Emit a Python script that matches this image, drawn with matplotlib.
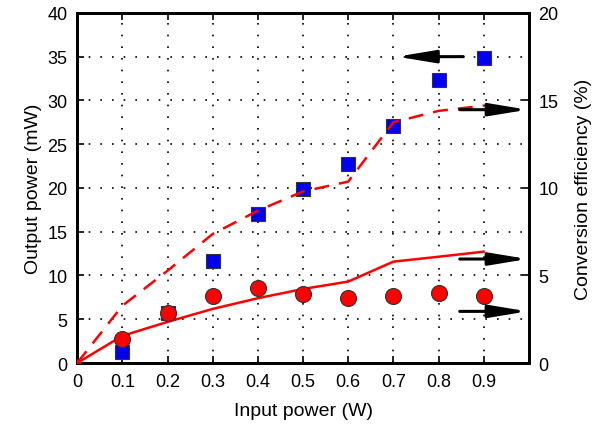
import matplotlib.pyplot as plt
import numpy as np

plt.rcParams['font.family'] = ['Liberation Sans', 'DejaVu Sans']

# 入力パワー (W)
x_pts = [0.1, 0.2, 0.3, 0.4, 0.5, 0.6, 0.7, 0.8, 0.9]
# 出力パワー (mW) - 青四角, 左軸
output_mw = [1.3, 5.7, 11.6, 17.0, 19.9, 22.7, 27.1, 32.3, 34.9]
# 変換効率 (%) - 赤丸, 右軸
eff_pts = [1.35, 2.86, 3.85, 4.27, 3.94, 3.72, 3.84, 3.98, 3.84]

# 線 (右軸)
x_line = [0, 0.1, 0.2, 0.3, 0.4, 0.5, 0.6, 0.7, 0.8, 0.9]
solid_line = [0, 1.55, 2.35, 3.09, 3.7, 4.23, 4.65, 5.79, 6.07, 6.36]
dashed_line = [0, 3.27, 5.27, 7.37, 8.7, 9.8, 10.36, 13.75, 14.4, 14.7]

fig = plt.figure(figsize=(6.03, 4.27), dpi=100)
ax1 = fig.add_axes([0.128, 0.1475, 0.749, 0.82])
ax2 = ax1.twinx()

ax1.set_xlim(0, 1.0)
ax1.set_ylim(0, 40)
ax2.set_ylim(0, 20)

ax1.set_xticks([0, 0.1, 0.2, 0.3, 0.4, 0.5, 0.6, 0.7, 0.8, 0.9])
ax1.set_xticklabels(['0', '0.1', '0.2', '0.3', '0.4', '0.5', '0.6', '0.7', '0.8', '0.9'])
ax1.set_yticks(range(0, 41, 5))
ax2.set_yticks([0, 5, 10, 15, 20])

ax1.grid(True, color='black', linestyle=(0, (1, 6)), linewidth=1.2)

# 線
ax2.plot(x_line, solid_line, color='red', linewidth=1.8, zorder=3)
ax2.plot(x_line, dashed_line, color='red', linewidth=1.8, dashes=(6, 4), zorder=3)

# マーカー
ax1.plot(x_pts, output_mw, 's', color='#0000ee', markersize=10.5,
         markeredgecolor='#333333', markeredgewidth=0.8, zorder=4)
ax2.plot(x_pts, eff_pts, 'o', color='#ff0000', markersize=11.5,
         markeredgecolor='#333333', markeredgewidth=0.8, zorder=4)
# 原点
ax2.plot([0], [0], 's', color='red', markersize=4, zorder=4)

# 矢印
arrow_kw = dict(arrowstyle='-|>,head_length=2.3,head_width=0.38', color='black',
                linewidth=2.2, shrinkA=0, shrinkB=0)
ax1.annotate('', xy=(0.708, 35), xytext=(0.855, 35), arrowprops=arrow_kw, zorder=5)
ax2.annotate('', xy=(0.997, 14.47), xytext=(0.847, 14.47), arrowprops=arrow_kw, zorder=5)
ax2.annotate('', xy=(0.997, 5.94), xytext=(0.847, 5.94), arrowprops=arrow_kw, zorder=5)
ax2.annotate('', xy=(0.997, 2.95), xytext=(0.847, 2.95), arrowprops=arrow_kw, zorder=5)

ax1.set_xlabel('Input power (W)', fontsize=14, labelpad=9)
ax1.set_ylabel('Output power (mW)', fontsize=14, labelpad=4)
ax2.set_ylabel('Conversion efficiency (%)', fontsize=14, labelpad=12)

for ax in (ax1, ax2):
    ax.tick_params(direction='in', length=5, width=1.2, labelsize=13, pad=7)
    for s in ax.spines.values():
        s.set_linewidth(2)
ax1.tick_params(top=True)

fig.savefig('out.png', dpi=100)
